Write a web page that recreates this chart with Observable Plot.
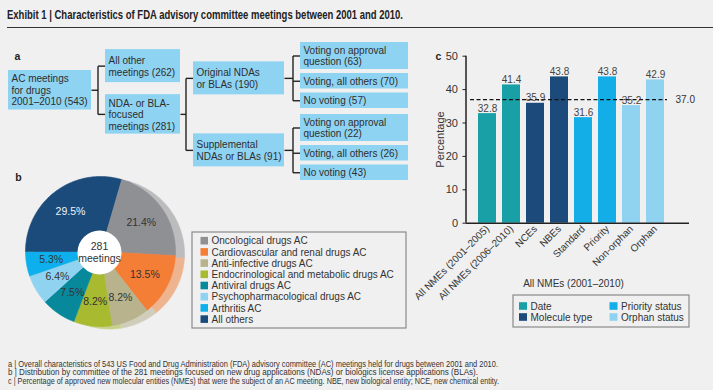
<!DOCTYPE html>
<html><head><meta charset="utf-8">
<script src="https://cdn.jsdelivr.net/npm/d3@7"></script>
<script src="https://cdn.jsdelivr.net/npm/@observablehq/plot@0.6"></script>
<style>
html,body{margin:0;padding:0;background:#f0f0f0;}
#wrap{position:relative;width:713px;height:390px;overflow:hidden;font-family:"Liberation Sans",Arial,sans-serif;color:#333;background:#f0f0f0;}
#title{position:absolute;left:7px;top:9.4px;font-family:"Liberation Sans Narrow","Liberation Sans",Arial,sans-serif;font-weight:bold;font-size:12.5px;line-height:12.5px;color:#222;white-space:nowrap;transform-origin:0 0;}
#rule{position:absolute;left:7px;right:0;top:27px;height:0;border-top:1.6px solid #333;}
#base{position:absolute;left:0;top:0;width:713px;height:390px;}
#bars{position:absolute;left:420px;top:40px;width:293px;height:295px;}
.cap{position:absolute;left:8px;font-family:"Liberation Sans Narrow","Liberation Sans",Arial,sans-serif;font-size:8.6px;line-height:8.6px;color:#333;white-space:nowrap;transform-origin:0 0;}
svg{overflow:visible;}
</style>
</head><body>
<div id="wrap">
  <div id="base"></div>
  <div id="bars"></div>
  <div id="title">Exhibit 1 | Characteristics of FDA advisory committee meetings between 2001 and 2010.</div>
  <div id="rule"></div>
  <div class="cap" data-w="490" style="top:359.6px">a | Overall characteristics of 543 US Food and Drug Administration (FDA) advisory committee (AC) meetings held for drugs between 2001 and 2010.</div>
  <div class="cap" data-w="470" style="top:368.2px">b | Distribution by committee of the 281 meetings focused on new drug applications (NDAs) or biologics license applications (BLAs).</div>
  <div class="cap" data-w="491" style="top:376.6px">c | Percentage of approved new molecular entities (NMEs) that were the subject of an AC meeting. NBE, new biological entity; NCE, new chemical entity.</div>
</div>
<script>
// ---------- DATA ----------
// panel a: tree
const treeIds = ["root","other","nda","orig","supp","o1","o2","o3","s1","s2","s3"];
const treeLabels = ["AC meetings\nfor drugs\n2001–2010","All other\nmeetings","NDA- or BLA-\nfocused\nmeetings","Original NDAs\nor BLAs","Supplemental\nNDAs or BLAs","Voting on approval\nquestion","Voting, all others","No voting","Voting on approval\nquestion","Voting, all others","No voting"];
const treeCounts = [543,262,281,190,91,63,70,57,22,26,43];
const treeParents = [null,"root","root","nda","nda","orig","orig","orig","supp","supp","supp"];
// panel b: pie (legend order)
const pieLabels = ["Oncological drugs AC","Cardiovascular and renal drugs AC","Anti-infective drugs AC","Endocrinological and metabolic drugs AC","Antiviral drugs AC","Psychopharmacological drugs AC","Arthritis AC","All others"];
const piePct = [21.4,13.5,8.2,8.2,7.5,6.4,5.3,29.5];
const pieTotal = 281;
// panel c: bars
const barCats = ["All NMEs (2001–2005)","All NMEs (2006–2010)","NCEs","NBEs","Standard","Priority","Non-orphan","Orphan"];
const barVals = [32.8,41.4,35.9,43.8,31.6,43.8,35.2,42.9];
const barGroups = ["Date","Date","Molecule type","Molecule type","Priority status","Priority status","Orphan status","Orphan status"];
const groupNames = ["Date","Molecule type","Priority status","Orphan status"];
const overallPct = 37.0;
const overallLabel = "All NMEs (2001–2010)";

// ---------- STYLES ----------
const boxFill = "#8ed3f2";
const pieColors = ["#8f9093","#f47e35","#b8b38d","#a7ba30","#08899b","#90d3f1","#0db0ec","#1b4b7b"];
const groupColors = ["#18a0a6","#1c4a7a","#13aee8","#8fd3f1"];
const font = "'Liberation Sans', Arial, sans-serif";

// ---------- TREE LAYOUT ----------
const colX = [[8,91],[105,180],[193,284],[300,408]];
const treeTable = treeIds.map((id,i)=>({id, parent:treeParents[i], text: treeLabels[i] + " (" + treeCounts[i] + ")"}));
const tree = d3.stratify().id(d=>d.id).parentId(d=>d.parent)(treeTable);
tree.each(n=>{
  n.lines = n.data.text.split("\n").length;
  n.x1 = colX[n.depth][0]; n.x2 = colX[n.depth][1];
  n.h = n.depth===3 ? n.lines*11.5+4 : Math.max(33, n.lines*11.5+5);
});
let yTop = 42, prevParent = null;
tree.leaves().filter(n=>n.depth===3).forEach(n=>{
  if (prevParent && n.parent!==prevParent) yTop += 2;
  n.y1 = yTop; n.y2 = yTop+n.h; yTop = n.y2+4; prevParent = n.parent;
});
tree.eachAfter(n=>{
  if (!n.children) return;
  const placed = n.children.filter(c=>c.y1!==undefined);
  n.children.forEach(c=>{ if (c.y1===undefined){ const s = placed[0]; c.y2 = s.y1-12; c.y1 = c.y2-c.h; } });
  const cs = n.children.map(c=>(c.y1+c.y2)/2);
  const mid = (cs[0]+cs[cs.length-1])/2;
  n.y1 = mid - n.h/2; n.y2 = mid + n.h/2;
});
const nodes = tree.descendants().map(n=>({x1:n.x1,x2:n.x2,y1:n.y1,y2:n.y2,cy:(n.y1+n.y2)/2,text:n.data.text}));
const links = [];
tree.each(n=>{
  if (!n.children) return;
  const pcy = (n.y1+n.y2)/2, vx = n.children[0].x1-7.5;
  const ccy = n.children.map(c=>(c.y1+c.y2)/2);
  links.push({x1:n.x2,y1:pcy,x2:vx,y2:pcy});
  links.push({x1:vx,y1:d3.min(ccy),x2:vx,y2:d3.max(ccy)});
  n.children.forEach((c,i)=>links.push({x1:vx,y1:ccy[i],x2:c.x1,y2:ccy[i]}));
});

// ---------- PIE GEOMETRY ----------
const pcx = 100, pcy = 251, R = 75, rHole = 22, rLab = 50;
const startDeg = -90 + piePct[piePct.length-1]*3.6;
let acc = startDeg;
const slices = piePct.map((p,i)=>{ const a0 = acc, a1 = acc + p*3.6; acc = a1; return {label:pieLabels[i], pct:p, a0, a1, color:pieColors[i], shadow:d3.interpolateRgb(pieColors[i],"#e8e8e8")(0.5)}; });
function slicePts(s, ox, oy){
  const pts = [{x:pcx+ox,y:pcy+oy}];
  const n = Math.max(2, Math.ceil(s.a1-s.a0));
  for (let k=0;k<=n;k++){ const a = (s.a0 + (s.a1-s.a0)*k/n)*Math.PI/180; pts.push({x:pcx+ox+R*Math.sin(a), y:pcy+oy-R*Math.cos(a)}); }
  return pts;
}
const pieMarks = [];
slices.forEach(s=>pieMarks.push(Plot.line(slicePts(s,9,2.5),{x:"x",y:"y",fill:s.shadow,stroke:s.shadow,strokeWidth:0.6})));
slices.forEach(s=>pieMarks.push(Plot.line(slicePts(s,0,0),{x:"x",y:"y",fill:s.color,stroke:s.color,strokeWidth:0.6})));
const pieLab = slices.map(s=>{ const a=((s.a0+s.a1)/2)*Math.PI/180; return {x:pcx+rLab*Math.sin(a), y:pcy-rLab*Math.cos(a), t:s.pct.toFixed(1)+"%", c: s.label==="All others" ? "#eef3f8" : "#333"}; });

// legends
const legB = pieLabels.map((l,i)=>({l, c:pieColors[i], y: 240.7 + i*11.2}));
const legC = groupNames.map((g,i)=>({g, c:groupColors[i], x: i<2 ? 519 : 609.5, y: i%2===0 ? 306 : 317}));

const base = Plot.plot({
  width:713, height:390, margin:0,
  x:{type:"identity", axis:null}, y:{type:"identity", axis:null},
  style:{background:"transparent", fontFamily:font, fontSize:"10px", color:"#333"},
  marks:[
    // panel a
    Plot.link(links,{x1:"x1",y1:"y1",x2:"x2",y2:"y2",stroke:"#222",strokeWidth:1.4}),
    Plot.rect(nodes,{x1:"x1",x2:"x2",y1:"y1",y2:"y2",fill:boxFill}),
    Plot.text(nodes,{x:d=>d.x1+3,y:"cy",text:"text",textAnchor:"start",lineAnchor:"middle",lineHeight:1.15,fontSize:10,fill:"#2e2e2e"}),
    Plot.text([{x:17,y:56,t:"a"},{x:18,y:177,t:"b"},{x:438,y:56,t:"c"}],{x:"x",y:"y",text:"t",fontWeight:"bold",fontSize:10.5,fill:"#222"}),
    // panel b
    ...pieMarks,
    Plot.dot([{x:pcx-1,y:pcy+1}],{x:"x",y:"y",r:rHole,fill:"#ffffff",stroke:"none"}),
    Plot.text([{x:pcx-1,y:pcy+1,t:pieTotal+"\nmeetings"}],{x:"x",y:"y",text:"t",lineHeight:1.15,fontSize:10.5,fill:"#333"}),
    Plot.text(pieLab,{x:"x",y:"y",text:"t",fill:"c",fontSize:10.5}),
    Plot.rect([{}],{x1:192,x2:406,y1:232,y2:328,fill:"none",stroke:"#8a8a8a",strokeWidth:1.2}),
    Plot.rect(legB,{x1:200.5,x2:208,y1:d=>d.y-3.8,y2:d=>d.y+3.8,fill:"c"}),
    Plot.text(legB,{x:211,y:"y",text:"l",textAnchor:"start",fontSize:10,fill:"#333"}),
    // panel c extras
    Plot.text([{x:440,y:139,t:"Percentage"}],{x:"x",y:"y",text:"t",rotate:-90,fontSize:11,fill:"#333"}),
    Plot.text([{x:573,y:283,t:overallLabel}],{x:"x",y:"y",text:"t",fontSize:10,fill:"#333"}),
    Plot.rect([{}],{x1:513,x2:689,y1:295,y2:327,fill:"none",stroke:"#8a8a8a",strokeWidth:1.2}),
    Plot.rect(legC,{x1:"x",x2:d=>d.x+8,y1:d=>d.y-3.8,y2:d=>d.y+3.8,fill:"c"}),
    Plot.text(legC,{x:d=>d.x+11,y:"y",text:"g",textAnchor:"start",fontSize:10,fill:"#333"})
  ]
});
document.getElementById("base").append(base);

const barTable = barCats.map((c,i)=>({cat:c, val:barVals[i], group:barGroups[i]}));
const bars = Plot.plot({
  width:293, height:295, marginLeft:46, marginRight:24, marginTop:15.7, marginBottom:112.3,
  style:{background:"transparent", fontFamily:font, fontSize:"10px", color:"#333"},
  x:{domain:barCats, padding:0.27, insetLeft:3.4, insetRight:16.2, axis:null},
  y:{domain:[0,50], axis:null},
  color:{domain:groupNames, range:groupColors},
  marks:[
    Plot.barY(barTable,{x:"cat",y:"val",fill:"group"}),
    Plot.ruleY([overallPct],{stroke:"#111",strokeWidth:1.3,strokeDasharray:"4,2.5",insetLeft:4,insetRight:22}),
    Plot.text(barTable,{x:"cat",y:"val",text:d=>d.val.toFixed(1),lineAnchor:"bottom",dy:-2,fill:"#444",fontSize:10}),
    Plot.text([overallPct],{y:d=>d,frameAnchor:"right",text:d=>d.toFixed(1),textAnchor:"start",dx:-14,fontSize:10,fill:"#333"}),
    Plot.axisY({ticks:[0,10,20,30,40,50],tickSize:3.5,tickPadding:5,fontSize:11,label:null,stroke:"#222",fill:"#333"}),
    Plot.axisX({tickRotate:-45,tickSize:0,tickPadding:4,fontSize:10,label:null,fill:"#333"}),
    Plot.ruleY([0],{stroke:"#222",strokeWidth:1.5}),
    (index, scales, values, dims) => {
      const l = document.createElementNS("http://www.w3.org/2000/svg","line");
      l.setAttribute("x1", dims.marginLeft); l.setAttribute("x2", dims.marginLeft);
      l.setAttribute("y1", scales.y(50)); l.setAttribute("y2", scales.y(0));
      l.setAttribute("stroke","#222"); l.setAttribute("stroke-width","1.5");
      return l;
    }
  ]
});
document.getElementById("bars").append(bars);

// fit condensed text widths
const ttl = document.getElementById("title");
ttl.style.transform = `scaleX(${396 / ttl.getBoundingClientRect().width})`;
document.querySelectorAll(".cap").forEach(el=>{
  el.style.transform = `scaleX(${(+el.dataset.w) / el.getBoundingClientRect().width})`;
});
</script>
</body></html>
